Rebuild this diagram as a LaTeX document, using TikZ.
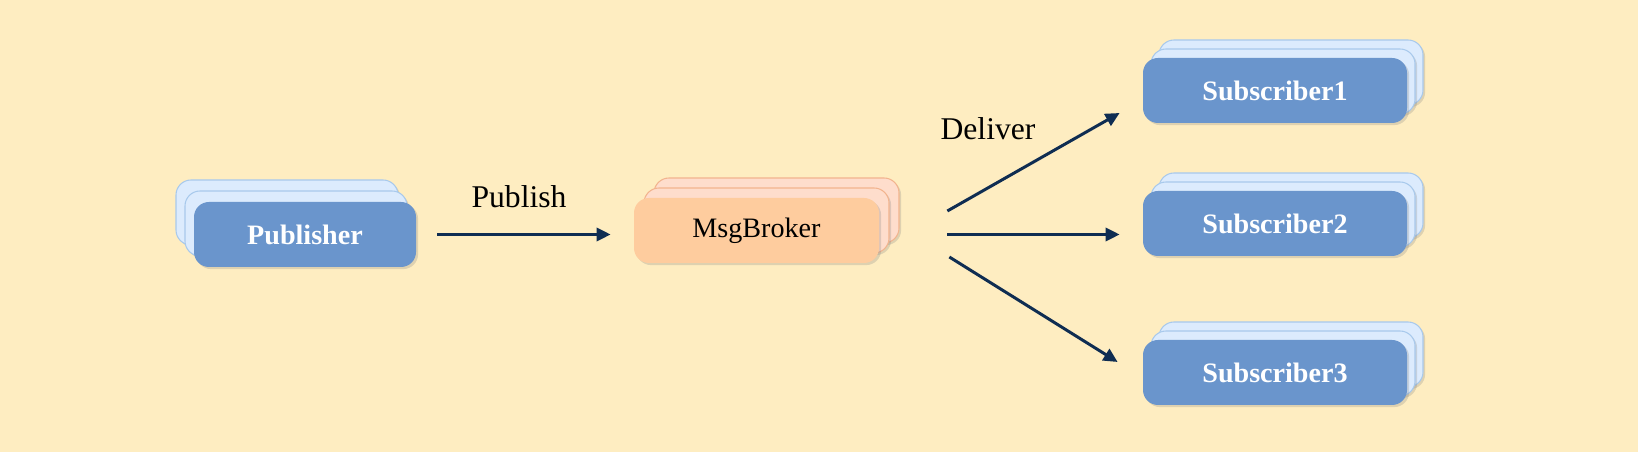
\documentclass[tikz,border=0pt]{standalone}
\usepackage{fontspec}
\setmainfont{Liberation Serif}
\usetikzlibrary{arrows.meta,shadows}
\definecolor{cream}{HTML}{FEEDC1}
\definecolor{boxblue}{HTML}{6A95CC}
\definecolor{paleblue}{HTML}{DCEBFD}
\definecolor{edgeblue}{HTML}{A8C9EC}
\definecolor{boxorange}{HTML}{FECC9E}
\definecolor{palepink}{HTML}{FEDDCC}
\definecolor{edgepink}{HTML}{F2B48E}
\definecolor{navy}{HTML}{0F2D52}

\begin{document}
\begin{tikzpicture}[
    layer/.style={rounded corners=0.3cm, minimum height=1.3cm, inner sep=0pt,
      drop shadow={shadow xshift=1.2pt,shadow yshift=-1.2pt,opacity=0.25}},
    bluelayer/.style={layer, fill=paleblue, draw=edgeblue, line width=0.6pt},
    bluebox/.style={layer, fill=boxblue, text=white, font=\fontsize{16}{18}\selectfont\bfseries},
    pinklayer/.style={layer, fill=palepink, draw=edgepink, line width=0.6pt},
    orangebox/.style={layer, fill=boxorange, font=\fontsize{16}{18}\selectfont},
    lbl/.style={font=\fontsize{18}{20}\selectfont},
    flow/.style={navy, line width=1.7pt, -{Triangle[length=8pt,width=7.5pt]}}]
    \fill[cream] (0,0) rectangle (32.76,9.04);
    % publisher stack
    \foreach \k in {2,1}
      \node[bluelayer, minimum width=4.44cm] (pub\k) at ({6.10-0.18*\k},{4.35+0.22*\k}) {};
    \node[bluebox, minimum width=4.44cm] (pub) at (6.10,4.35) {Publisher};
    % broker stack
    \foreach \k in {2,1}
      \node[pinklayer, minimum width=4.9cm] (brk\k) at ({15.13+0.2*\k},{4.43+0.2*\k}) {};
    \node[orangebox, minimum width=4.9cm] (brk) at (15.13,4.43) {MsgBroker};
    % subscriber stacks
    \foreach \i/\y in {1/7.23,2/4.57,3/1.59}{
      \foreach \k in {2,1}
        \node[bluelayer, minimum width=5.28cm] (sub\i-\k) at ({25.5+0.16*\k},{\y+0.18*\k}) {};
      \node[bluebox, minimum width=5.28cm] (sub\i) at (25.5,\y) {Subscriber\i};
    }
    % arrows
    \coordinate (out2) at ([xshift=1.36cm]brk.east |- pub.east);
    \draw[flow] ([xshift=0.42cm]pub.east) -- ([xshift=-0.46cm]pub.east -| brk.west);
    \draw[flow] ([xshift=1.36cm,yshift=0.39cm]brk.east) -- ([xshift=-0.46cm,yshift=-0.45cm]sub1.west);
    \draw[flow] (out2) -- ([xshift=-0.46cm]out2 -| sub2.west);
    \draw[flow] ([xshift=1.4cm,yshift=-0.53cm]brk.east) -- ([xshift=-0.5cm,yshift=0.21cm]sub3.west);
    \node[lbl] (publish) at (10.38,5.10) {Publish};
    \node[lbl] (deliver) at (19.76,6.46) {Deliver};
\end{tikzpicture}
\end{document}
